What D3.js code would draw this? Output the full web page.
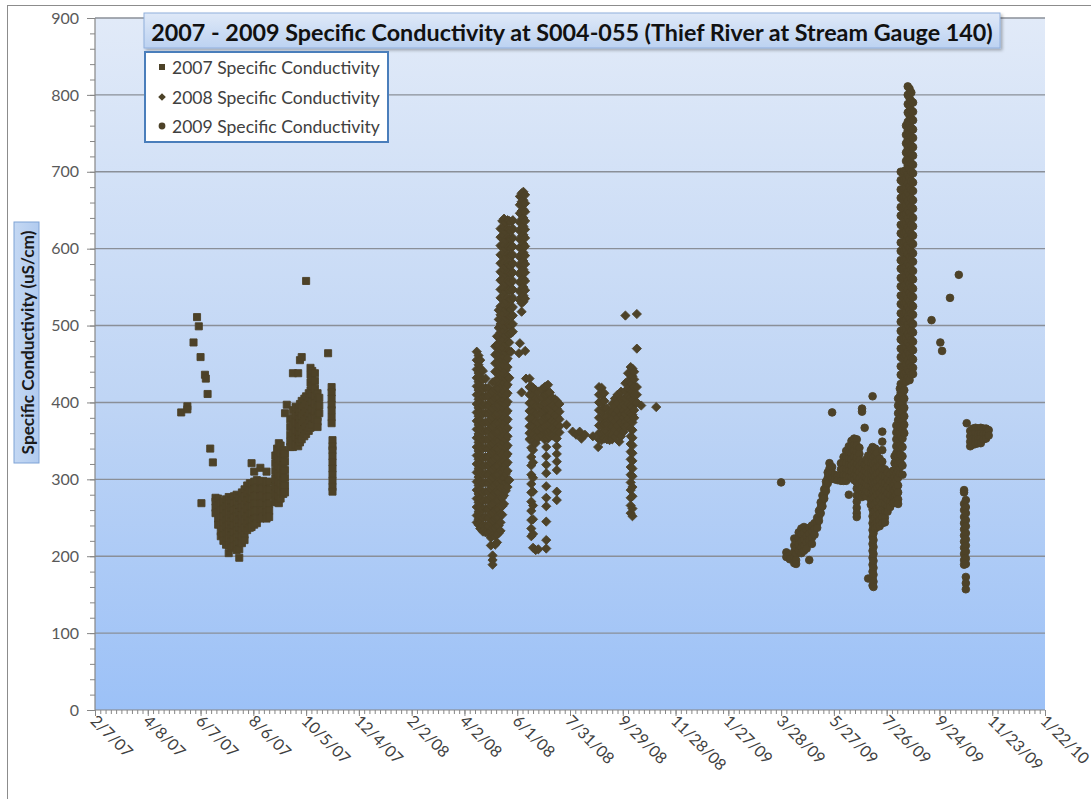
<!DOCTYPE html>
<html>
<head>
<meta charset="utf-8">
<script src="https://cdn.jsdelivr.net/npm/d3@7"></script>
<style>
  body { margin: 0; background: #ffffff; }
  svg { display: block; }
</style>
</head>
<body>
<svg id="chart" width="1091" height="799"></svg>
<script>
// ---- Axis labels --------------------------------------------------------
const xTickLabels = ["2/7/07", "4/8/07", "6/7/07", "8/6/07", "10/5/07", "12/4/07", "2/2/08",
  "4/2/08", "6/1/08", "7/31/08", "9/29/08", "11/28/08", "1/27/09", "3/28/09", "5/27/09",
  "7/26/09", "9/24/09", "11/23/09", "1/22/10"];
const yTickValues = [0, 100, 200, 300, 400, 500, 600, 700, 800, 900];
const yMinorStep = 20;
const xMinorStepDays = 6;

const chartTitle = "2007 - 2009 Specific Conductivity at S004-055 (Thief River at Stream Gauge 140)";
const yAxisTitle = "Specific Conductivity (uS/cm)";
const seriesNames = ["2007 Specific Conductivity", "2008 Specific Conductivity", "2009 Specific Conductivity"];

// ---- Readings: [date, readings in uS/cm logged on that date] -------------
const readings2007 = [
  ["2007-05-16", [387]],
  ["2007-05-23", [395, 391]],
  ["2007-05-30", [478]],
  ["2007-06-03", [511]],
  ["2007-06-05", [499]],
  ["2007-06-07", [459]],
  ["2007-06-08", [269]],
  ["2007-06-12", [436]],
  ["2007-06-13", [431]],
  ["2007-06-15", [411]],
  ["2007-06-18", [340]],
  ["2007-06-21", [322]],
  ["2007-06-24", [276, 271, 263, 256]],
  ["2007-06-27", [275, 266, 257, 249, 241]],
  ["2007-06-30", [268, 259, 249, 240, 232, 226]],
  ["2007-07-03", [271, 261, 252, 243, 235, 227, 220]],
  ["2007-07-06", [274, 265, 255, 246, 238, 229, 221, 215]],
  ["2007-07-09", [277, 268, 258, 249, 241, 232, 223, 214, 204]],
  ["2007-07-12", [273, 263, 254, 245, 236, 227, 219, 211]],
  ["2007-07-15", [278, 268, 259, 250, 240, 231, 222, 213]],
  ["2007-07-18", [280, 271, 261, 252, 243, 233, 224, 215, 208]],
  ["2007-07-21", [276, 267, 257, 247, 238, 228, 219, 209, 198]],
  ["2007-07-24", [283, 272, 263, 253, 243, 234, 225, 217]],
  ["2007-07-27", [287, 277, 267, 257, 247, 237, 228, 221]],
  ["2007-07-30", [292, 282, 272, 262, 252, 243, 234]],
  ["2007-08-02", [295, 286, 276, 266, 256, 246, 237]],
  ["2007-08-04", [321, 294, 284, 274, 264, 255, 245, 238]],
  ["2007-08-07", [310, 297, 287, 277, 268, 258, 248, 241]],
  ["2007-08-10", [299, 289, 279, 269, 259, 249, 243]],
  ["2007-08-14", [315, 297, 287, 277, 268, 258, 249]],
  ["2007-08-17", [298, 288, 279, 269, 259, 251]],
  ["2007-08-21", [310, 296, 286, 276, 266, 257, 249]],
  ["2007-08-24", [297, 287, 278, 268, 259, 251]],
  ["2007-08-31", [331, 321, 311, 301, 291, 281, 271]],
  ["2007-09-02", [340, 330, 320, 310, 300, 290, 280, 270]],
  ["2007-09-04", [347, 337, 327, 317, 307, 297, 287, 278, 269]],
  ["2007-09-06", [344, 334, 324, 314, 304, 294, 284, 275]],
  ["2007-09-09", [338, 328, 318, 308, 298, 289, 281]],
  ["2007-09-11", [386, 333, 323, 312, 302, 292, 283]],
  ["2007-09-13", [397]],
  ["2007-09-17", [378, 368, 358, 349, 342]],
  ["2007-09-20", [438, 390, 380, 370, 360, 350, 342]],
  ["2007-09-23", [394, 384, 374, 364, 354, 345]],
  ["2007-09-26", [438, 392, 382, 372, 362, 352, 343]],
  ["2007-09-28", [455, 398, 388, 378, 368, 358, 348]],
  ["2007-09-30", [459, 402, 392, 382, 372, 362, 352]],
  ["2007-10-03", [405, 395, 385, 375, 365, 356]],
  ["2007-10-05", [558, 408, 398, 388, 378, 368, 359]],
  ["2007-10-08", [412, 402, 392, 382, 372, 363]],
  ["2007-10-10", [445, 436, 426, 416, 406, 396, 386, 376, 367]],
  ["2007-10-12", [441, 431, 421, 411, 401, 391, 381, 371]],
  ["2007-10-15", [438, 428, 418, 408, 398, 388, 379]],
  ["2007-10-18", [412, 402, 392, 381, 375, 368]],
  ["2007-10-20", [406, 396, 386]],
  ["2007-10-30", [464]],
  ["2007-11-03", [420, 413, 405, 397, 390, 381, 373]],
  ["2007-11-04", [351, 343, 338, 330, 322, 314, 306, 298, 290, 284]]
];

const readings2008 = [
  ["2008-04-16", [466, 455, 443, 432, 421, 410, 398, 387, 376, 365, 354, 342, 331, 320, 309, 297, 286, 275, 264, 253, 244]],
  ["2008-04-18", [461, 449, 438, 427, 416, 404, 393, 382, 371, 359, 348, 337, 326, 314, 303, 292, 281, 270, 258, 248, 241]],
  ["2008-04-20", [455, 444, 432, 421, 410, 399, 387, 376, 365, 354, 342, 331, 320, 309, 297, 286, 275, 264, 252, 243, 236]],
  ["2008-04-23", [441, 430, 418, 407, 396, 385, 373, 362, 351, 340, 328, 317, 306, 295, 283, 272, 261, 250, 240, 232]],
  ["2008-04-26", [431, 419, 408, 397, 386, 374, 363, 352, 341, 329, 318, 307, 296, 284, 273, 262, 251, 240, 231]],
  ["2008-04-29", [419, 408, 396, 385, 374, 363, 351, 340, 329, 318, 306, 295, 284, 273, 261, 250, 239, 230]],
  ["2008-05-02", [412, 401, 389, 378, 367, 356, 344, 333, 322, 311, 299, 288, 277, 266, 254, 243, 232, 224, 214]],
  ["2008-05-04", [426, 414, 403, 392, 381, 369, 358, 347, 336, 324, 313, 302, 291, 279, 268, 257, 246, 236, 227, 201, 195, 189]],
  ["2008-05-07", [473, 462, 451, 440, 428, 417, 406, 395, 383, 372, 361, 350, 338, 327, 316, 305, 293, 282, 271, 260, 248, 237, 226, 215]],
  ["2008-05-09", [486, 475, 464, 452, 441, 430, 419, 407, 396, 385, 374, 362, 351, 340, 329, 317, 306, 295, 284, 272, 261, 250, 239, 228, 218]],
  ["2008-05-11", [520, 508, 497, 486, 474, 463, 452, 441, 429, 418, 407, 396, 384, 373, 362, 351, 339, 328, 317, 306, 294, 283, 272, 261, 250, 240, 230]],
  ["2008-05-13", [626, 615, 604, 592, 581, 570, 559, 547, 536, 525, 514, 502, 491, 480, 469, 457, 446, 435, 424, 412, 401, 390, 379, 367, 356, 345, 334, 322, 311, 300, 289, 277, 266, 255, 244, 233]],
  ["2008-05-15", [636, 625, 613, 602, 591, 580, 568, 557, 546, 535, 523, 512, 501, 490, 478, 467, 456, 445, 433, 422, 411, 400, 388, 377, 366, 355, 343, 332, 321, 310, 298, 287, 276, 265, 254]],
  ["2008-05-17", [639, 628, 617, 605, 594, 583, 572, 560, 549, 538, 527, 515, 504, 493, 482, 470, 459, 448, 437, 425, 414, 403, 392, 380, 369, 358, 347, 335, 324, 313, 302, 290, 279, 268]],
  ["2008-05-19", [634, 622, 611, 600, 589, 577, 566, 555, 544, 532, 521, 510, 499, 487, 476, 465, 454, 442, 431, 420, 409, 397, 386, 375, 364, 352, 341, 330, 319, 307, 296, 285]],
  ["2008-05-21", [637, 626, 614, 603, 592, 581, 569, 558, 547, 536, 524, 513, 502, 491, 479, 468, 457, 446, 434, 423, 412, 401, 389, 378, 367, 356, 344, 333, 322, 311, 299, 290]],
  ["2008-05-23", [636, 624, 613, 602, 591, 579, 568, 557, 546, 534, 523, 512, 501, 489, 478, 466, 432, 299]],
  ["2008-05-25", [635, 623, 612, 601, 590, 578, 567, 556, 545, 533, 522, 511, 500, 490, 466]],
  ["2008-05-27", [637, 626, 614, 603, 592, 581, 569, 558, 547, 536, 524, 513, 502, 492]],
  ["2008-06-03", [464]],
  ["2008-06-04", [668, 657, 646, 634, 623, 612, 601, 589, 578, 567, 556, 544, 533, 477]],
  ["2008-06-06", [672, 661, 649, 638, 627, 616, 604, 593, 582, 571, 559, 548, 537, 529, 518, 413]],
  ["2008-06-08", [674, 663, 651, 640, 629, 618, 606, 595, 584, 573, 561, 550, 539, 531]],
  ["2008-06-10", [670, 659, 648, 636, 625, 614, 603, 591, 580, 569, 558, 546, 535, 467]],
  ["2008-06-11", [431]],
  ["2008-06-15", [431, 420, 410, 399, 389, 379, 369, 360, 352]],
  ["2008-06-17", [421, 411, 400, 390, 380, 370, 361, 352, 341, 329, 318, 306, 294, 283, 271, 259, 247, 236, 226]],
  ["2008-06-19", [419, 409, 399, 388, 378, 368, 358, 350, 338, 322, 302, 284, 266, 248, 229, 211]],
  ["2008-06-22", [416, 405, 395, 385, 375, 364, 355, 347, 208]],
  ["2008-06-25", [414, 404, 394, 384, 373, 363, 354, 209]],
  ["2008-06-29", [417, 406, 396, 386, 376, 366, 357]],
  ["2008-07-02", [420, 410, 399, 389, 379, 369, 360, 352]],
  ["2008-07-04", [421, 411, 401, 391, 381, 371, 361, 342, 330, 319, 308, 291, 276, 265, 245, 221, 210]],
  ["2008-07-06", [423, 412, 402, 392, 382, 372, 362, 353]],
  ["2008-07-08", [413, 403, 393, 383, 373, 364, 356]],
  ["2008-07-11", [406, 396, 386, 376, 366, 357]],
  ["2008-07-14", [404, 394, 384, 374, 364, 355]],
  ["2008-07-16", [402, 392, 382, 372, 362, 353, 343, 333, 323, 312, 284, 273]],
  ["2008-07-19", [398, 388, 378, 369, 361]],
  ["2008-07-27", [371]],
  ["2008-08-03", [362]],
  ["2008-08-07", [358]],
  ["2008-08-11", [362]],
  ["2008-08-13", [353]],
  ["2008-08-17", [358]],
  ["2008-08-26", [356]],
  ["2008-09-01", [342]],
  ["2008-09-02", [420, 410, 400, 390, 380, 370, 360, 352]],
  ["2008-09-05", [419, 409, 399, 389, 379, 369, 359, 351]],
  ["2008-09-08", [412, 402, 392, 382, 372, 362, 353]],
  ["2008-09-11", [392, 382, 372, 362, 352]],
  ["2008-09-14", [388, 378, 368, 358, 351]],
  ["2008-09-17", [398, 388, 378, 368, 358, 352]],
  ["2008-09-20", [405, 395, 385, 375, 365, 355]],
  ["2008-09-23", [410, 400, 390, 380, 370, 360]],
  ["2008-09-25", [349]],
  ["2008-09-27", [414, 404, 394, 384, 374, 364, 356]],
  ["2008-09-30", [405, 398, 390, 380, 370, 362]],
  ["2008-10-02", [513, 425, 415, 405, 395, 385, 375, 368]],
  ["2008-10-05", [438, 428, 418, 408, 398, 388, 378, 370]],
  ["2008-10-08", [446, 436, 426, 416, 406, 396, 386, 376, 366, 356, 346, 336, 326, 316, 306, 296, 286, 276, 266, 256]],
  ["2008-10-10", [444, 434, 424, 414, 404, 394, 384, 374, 364, 354, 344, 334, 324, 314, 304, 290, 278, 262, 252]],
  ["2008-10-12", [440, 430, 420, 410, 400, 390, 380]],
  ["2008-10-15", [515, 470, 420, 410, 400]],
  ["2008-10-20", [396]],
  ["2008-11-06", [394]]
];

const readings2009 = [
  ["2009-03-28", [296]],
  ["2009-04-03", [205, 199]],
  ["2009-04-07", [202, 196]],
  ["2009-04-12", [223, 214, 206, 198, 191]],
  ["2009-04-14", [219, 211, 203, 195, 190]],
  ["2009-04-17", [231, 223, 215, 207]],
  ["2009-04-20", [236, 228, 219, 211, 204]],
  ["2009-04-23", [238, 230, 221, 213, 207]],
  ["2009-04-26", [234, 226, 218, 210]],
  ["2009-04-29", [237, 229, 221, 195]],
  ["2009-05-02", [240, 232, 224, 216]],
  ["2009-05-05", [243, 235, 228]],
  ["2009-05-08", [250, 243, 237]],
  ["2009-05-10", [259, 252, 246]],
  ["2009-05-12", [270, 263, 256]],
  ["2009-05-14", [279, 272, 265]],
  ["2009-05-16", [287, 281, 275]],
  ["2009-05-18", [297, 291, 285]],
  ["2009-05-20", [309, 302, 295]],
  ["2009-05-22", [321, 314, 306]],
  ["2009-05-25", [387, 316, 308, 301]],
  ["2009-05-28", [306, 300]],
  ["2009-05-31", [304, 299]],
  ["2009-06-04", [321, 313, 305, 298]],
  ["2009-06-07", [329, 321, 313, 305, 298]],
  ["2009-06-10", [337, 329, 321, 313, 305, 298]],
  ["2009-06-13", [343, 335, 327, 319, 311, 303, 280]],
  ["2009-06-16", [350, 342, 334, 326, 318, 310, 302]],
  ["2009-06-19", [353, 345, 337, 329, 321, 313, 305, 299]],
  ["2009-06-22", [352, 344, 336, 328, 320, 312, 304, 296, 288, 279, 271, 263, 256, 251]],
  ["2009-06-25", [341, 333, 325, 317, 309, 301, 293, 285, 279]],
  ["2009-06-28", [392, 388, 321, 313, 305, 297, 289, 281, 277]],
  ["2009-07-01", [367, 319, 311, 303, 295, 287, 279]],
  ["2009-07-03", [326, 318, 310, 302, 294, 286, 278]],
  ["2009-07-05", [331, 323, 315, 307, 299, 291, 283, 171]],
  ["2009-07-08", [338, 330, 322, 314, 306, 298, 290, 282, 274, 267]],
  ["2009-07-10", [408, 342, 333, 324, 315, 306, 297, 288, 279, 270, 261, 252, 243, 234, 225, 216, 207, 198, 189, 180, 171, 162]],
  ["2009-07-11", [338, 329, 320, 311, 302, 293, 284, 275, 266, 257, 248, 239, 230, 221, 212, 203, 194, 185, 176, 167, 160]],
  ["2009-07-13", [340, 331, 322, 313, 304, 295, 286, 277, 268, 259, 250, 241, 236]],
  ["2009-07-15", [334, 325, 316, 307, 298, 289, 280, 271, 262, 253, 244, 238]],
  ["2009-07-18", [327, 318, 309, 300, 291, 282, 273, 264, 255, 246, 239]],
  ["2009-07-21", [362, 349, 338, 323, 314, 305, 296, 287, 278, 269, 260, 251, 243]],
  ["2009-07-24", [313, 304, 295, 286, 277, 268, 259, 250, 244]],
  ["2009-07-27", [309, 300, 291, 282, 273, 264, 258]],
  ["2009-07-30", [306, 297, 288, 279, 270, 264]],
  ["2009-08-02", [311, 302, 293, 284, 276, 269]],
  ["2009-08-04", [330, 321, 312, 303, 294, 285, 276, 270]],
  ["2009-08-06", [370, 361, 352, 343, 334, 325, 316, 307, 298, 289, 280, 272]],
  ["2009-08-08", [405, 396, 386, 377, 367, 358, 348, 339, 329, 320, 311, 302, 292, 283, 274, 268]],
  ["2009-08-10", [418, 408, 399, 389, 380, 370, 361, 351, 342, 333, 325, 316, 307]],
  ["2009-08-11", [700, 689, 677, 666, 654, 643, 631, 620, 608, 597, 585, 574, 562, 551, 539, 528, 516, 505, 493, 482, 470, 459, 447, 436, 424, 413, 401, 390, 378, 367, 355, 344, 332, 321]],
  ["2009-08-13", [698, 687, 675, 664, 652, 641, 629, 618, 606, 595, 583, 572, 560, 549, 537, 526, 514, 503, 491, 480, 468, 457, 445, 434, 422, 411, 399, 388, 376, 365, 353, 342, 330, 318, 306]],
  ["2009-08-15", [701, 690, 678, 667, 655, 644, 632, 621, 609, 598, 586, 575, 563, 552, 540, 529, 517, 506, 494, 483, 471, 460, 448, 437, 428, 416, 405, 393, 382, 371, 360]],
  ["2009-08-17", [760, 748, 737, 725, 714, 702, 691, 679, 668, 656, 645, 633, 622, 610, 599, 587, 576, 564, 553, 541, 530, 518, 507, 495, 484, 472, 461, 449, 438, 427]],
  ["2009-08-19", [811, 800, 788, 777, 765, 754, 742, 731, 719, 708, 696, 685, 673, 662, 650, 639, 627, 616, 604, 593, 581, 570, 558, 547, 535, 524, 512, 501, 489, 478, 466, 455, 443, 432]],
  ["2009-08-21", [808, 796, 785, 773, 762, 750, 739, 727, 716, 704, 693, 681, 670, 658, 647, 635, 624, 612, 601, 589, 578, 566, 555, 543, 532, 520, 509, 497, 486, 474, 463, 451, 440, 429]],
  ["2009-08-23", [803, 792, 780, 769, 757, 746, 734, 723, 711, 700, 688, 677, 665, 654, 642, 631, 619, 608, 596, 585, 573, 562, 550, 539, 527, 516, 504, 493, 481, 470, 458, 447, 436]],
  ["2009-08-25", [790, 778, 767, 755, 744, 732, 721, 709, 698, 686, 675, 663, 652, 640, 629, 617, 606, 594, 583, 571, 560, 548, 537, 525, 514, 502, 491, 479, 468, 456, 445, 437]],
  ["2009-09-15", [507]],
  ["2009-09-25", [478]],
  ["2009-09-27", [467]],
  ["2009-10-06", [536]],
  ["2009-10-16", [566]],
  ["2009-10-22", [286, 283, 268, 260, 251, 243, 235, 227, 219, 211, 203, 195, 189]],
  ["2009-10-24", [273, 264, 256, 247, 239, 230, 222, 214, 206, 197, 190, 173, 165, 157]],
  ["2009-10-25", [373]],
  ["2009-10-29", [363, 356, 349, 343]],
  ["2009-11-01", [366, 359, 352, 345]],
  ["2009-11-04", [367, 360, 353, 346]],
  ["2009-11-07", [366, 359, 352, 347]],
  ["2009-11-10", [367, 360, 353, 347]],
  ["2009-11-13", [366, 359, 352]],
  ["2009-11-16", [366, 359, 353]],
  ["2009-11-19", [364, 357]]
];

// ---- Layout -------------------------------------------------------------
const W = 1091, H = 799;
const plot = { left: 95, right: 1045, top: 18, bottom: 710 };
const markerColor = "#4d4228";
const fontFamily = "Lato, 'Open Sans', 'DejaVu Sans', sans-serif";

const parseDay = d3.timeParse("%Y-%m-%d");
const parseTick = d3.timeParse("%m/%d/%y");
const tickDates = xTickLabels.map(parseTick);
const fmtTick = d3.timeFormat("%-m/%-d/%y");

const x = d3.scaleTime()
  .domain([tickDates[0], tickDates[tickDates.length - 1]])
  .range([plot.left, plot.right]);
const y = d3.scaleLinear()
  .domain([yTickValues[0], yTickValues[yTickValues.length - 1]])
  .range([plot.bottom, plot.top]);

const svg = d3.select("#chart");
const defs = svg.append("defs");

const plotGrad = defs.append("linearGradient").attr("id", "plotFill")
  .attr("x1", 0).attr("y1", 0).attr("x2", 0).attr("y2", 1);
plotGrad.append("stop").attr("offset", "0%").attr("stop-color", "#e1eaf8");
plotGrad.append("stop").attr("offset", "55%").attr("stop-color", "#bfd5f5");
plotGrad.append("stop").attr("offset", "100%").attr("stop-color", "#9cc1f7");

const titleGrad = defs.append("linearGradient").attr("id", "titleFill")
  .attr("x1", 0).attr("y1", 0).attr("x2", 0).attr("y2", 1);
titleGrad.append("stop").attr("offset", "0%").attr("stop-color", "#dfe9f8");
titleGrad.append("stop").attr("offset", "100%").attr("stop-color", "#bcd2f1");

const yTitleGrad = defs.append("linearGradient").attr("id", "yTitleFill")
  .attr("x1", 0).attr("y1", 0).attr("x2", 1).attr("y2", 0);
yTitleGrad.append("stop").attr("offset", "0%").attr("stop-color", "#c4d8f3");
yTitleGrad.append("stop").attr("offset", "100%").attr("stop-color", "#b1cbef");

const shadow = defs.append("filter").attr("id", "boxShadow")
  .attr("x", "-5%").attr("y", "-20%").attr("width", "110%").attr("height", "150%");
shadow.append("feDropShadow").attr("dx", 2).attr("dy", 2).attr("stdDeviation", 1.5)
  .attr("flood-color", "#000").attr("flood-opacity", 0.28);

// Chart area with its outline
svg.append("rect").attr("x", 0).attr("y", 0).attr("width", W).attr("height", H).attr("fill", "#ffffff");
svg.append("rect").attr("x", 7.5).attr("y", 5.5).attr("width", W + 20).attr("height", H + 20)
  .attr("fill", "none").attr("stroke", "#8c8c8c").attr("stroke-width", 1);

// Plot area
svg.append("rect")
  .attr("x", plot.left).attr("y", plot.top)
  .attr("width", plot.right - plot.left).attr("height", plot.bottom - plot.top)
  .attr("fill", "url(#plotFill)");

// Horizontal gridlines
svg.append("g").selectAll("line")
  .data(yTickValues.filter(v => v > 0))
  .join("line")
  .attr("x1", plot.left).attr("x2", plot.right)
  .attr("y1", d => y(d)).attr("y2", d => y(d))
  .attr("stroke", "#8a8f98").attr("stroke-width", 1.4);

// ---- Axes ---------------------------------------------------------------
const axisColor = "#868686";

// y axis: minor ticks every 20, major every 100
const yMinor = d3.range(yTickValues[0], yTickValues[yTickValues.length - 1] + 1, yMinorStep);
const yAxisMinor = d3.axisLeft(y).tickValues(yMinor).tickSize(5).tickFormat("");
const yAxisMajor = d3.axisLeft(y).tickValues(yTickValues).tickSize(8).tickPadding(8);

const gyMinor = svg.append("g").attr("transform", `translate(${plot.left},0)`).call(yAxisMinor);
const gy = svg.append("g").attr("transform", `translate(${plot.left},0)`).call(yAxisMajor);
[gyMinor, gy].forEach(g => {
  g.select(".domain").attr("stroke", axisColor).attr("stroke-width", 1.2);
  g.selectAll(".tick line").attr("stroke", axisColor).attr("stroke-width", 1);
});
gyMinor.select(".domain").remove();
gy.select(".domain").attr("d", `M0,${plot.top}V${plot.bottom}`);
gy.selectAll(".tick text")
  .attr("font-family", fontFamily).attr("font-size", 16)
  .attr("fill", "#595959").attr("x", -16);

// x axis: minor ticks every 6 days, labelled major ticks every 60 days
const xMinor = d3.timeDay.range(tickDates[0], d3.timeDay.offset(tickDates[tickDates.length - 1], 1), xMinorStepDays);
const xAxisMinor = d3.axisBottom(x).tickValues(xMinor).tickSize(4).tickFormat("");
const xAxisMajor = d3.axisBottom(x).tickValues(tickDates).tickSize(6).tickFormat(fmtTick);

const gxMinor = svg.append("g").attr("transform", `translate(0,${plot.bottom})`).call(xAxisMinor);
const gx = svg.append("g").attr("transform", `translate(0,${plot.bottom})`).call(xAxisMajor);
[gxMinor, gx].forEach(g => {
  g.selectAll(".tick line").attr("stroke", axisColor).attr("stroke-width", 1);
});
gxMinor.select(".domain").remove();
gx.select(".domain").attr("stroke", axisColor).attr("stroke-width", 1.2)
  .attr("d", `M${plot.left},0H${plot.right}`);
gx.selectAll(".tick text")
  .attr("font-family", fontFamily).attr("font-size", 16)
  .attr("fill", "#404040")
  .attr("text-anchor", "start")
  .attr("dy", null)
  .attr("y", 0)
  .attr("transform", "translate(-6,12) rotate(45)");

// ---- Markers ------------------------------------------------------------
function flatten(rows) {
  return rows.flatMap(([day, values]) => values.map(v => ({ date: parseDay(day), value: v })));
}
const squarePath = d3.symbol().type(d3.symbolSquare).size(50)();
const circlePath = d3.symbol().type(d3.symbolCircle).size(46)();
const diamondPath = "M0,-4.6L4.6,0L0,4.6L-4.6,0Z";

const series = [
  { name: seriesNames[0], points: flatten(readings2007), shape: squarePath },
  { name: seriesNames[1], points: flatten(readings2008), shape: diamondPath },
  { name: seriesNames[2], points: flatten(readings2009), shape: circlePath }
];

const marks = svg.append("g");
series.forEach(s => {
  marks.append("g").selectAll("path")
    .data(s.points)
    .join("path")
    .attr("d", s.shape)
    .attr("transform", d => `translate(${x(d.date)},${y(d.value)})`)
    .attr("fill", markerColor)
    .attr("stroke", markerColor)
    .attr("stroke-width", 0.9)
    .attr("stroke-linejoin", "round");
});

// ---- Title, axis title, legend -----------------------------------------
function fitWidth(sel, target) {
  const len = sel.node().getComputedTextLength();
  const size = parseFloat(sel.attr("font-size"));
  sel.attr("font-size", (size * target / len).toFixed(2));
}

const titleBox = { x: 144, y: 13, w: 856, h: 35 };
svg.append("rect")
  .attr("x", titleBox.x).attr("y", titleBox.y).attr("width", titleBox.w).attr("height", titleBox.h)
  .attr("fill", "url(#titleFill)").attr("stroke", "#90afdc").attr("stroke-width", 1)
  .attr("filter", "url(#boxShadow)");
const titleText = svg.append("text")
  .attr("x", titleBox.x + titleBox.w / 2).attr("y", titleBox.y + titleBox.h / 2 + 1)
  .attr("text-anchor", "middle").attr("dominant-baseline", "central")
  .attr("font-family", fontFamily).attr("font-weight", "bold").attr("font-size", 22)
  .attr("fill", "#111111")
  .text(chartTitle);
fitWidth(titleText, 842);

const yTitleBox = { x: 14, y: 222, w: 25, h: 241 };
svg.append("rect")
  .attr("x", yTitleBox.x).attr("y", yTitleBox.y).attr("width", yTitleBox.w).attr("height", yTitleBox.h)
  .attr("fill", "url(#yTitleFill)").attr("stroke", "#7fa3d6").attr("stroke-width", 1);
const yTitleText = svg.append("text")
  .attr("transform", `translate(${yTitleBox.x + yTitleBox.w / 2 + 1},${yTitleBox.y + yTitleBox.h / 2}) rotate(-90)`)
  .attr("text-anchor", "middle").attr("dominant-baseline", "central")
  .attr("font-family", fontFamily).attr("font-weight", "bold").attr("font-size", 14)
  .attr("fill", "#1a1a1a")
  .text(yAxisTitle);
fitWidth(yTitleText, 224);

const legendBox = { x: 145, y: 52, w: 243, h: 90 };
svg.append("rect")
  .attr("x", legendBox.x).attr("y", legendBox.y).attr("width", legendBox.w).attr("height", legendBox.h)
  .attr("fill", "#ffffff").attr("stroke", "#4a7ebb").attr("stroke-width", 2);
const legendRows = [67, 97, 126];
const legendShapes = [
  d3.symbol().type(d3.symbolSquare).size(36)(),
  "M0,-3.8L3.8,0L0,3.8L-3.8,0Z",
  d3.symbol().type(d3.symbolCircle).size(36)()
];
const legend = svg.append("g");
series.forEach((s, i) => {
  legend.append("path")
    .attr("d", legendShapes[i])
    .attr("transform", `translate(162,${legendRows[i]})`)
    .attr("fill", markerColor);
  const t = legend.append("text")
    .attr("x", 172).attr("y", legendRows[i])
    .attr("dominant-baseline", "central")
    .attr("font-family", fontFamily).attr("font-size", 15)
    .attr("fill", "#404040")
    .text(s.name);
  fitWidth(t, 208);
});
</script>
</body>
</html>
